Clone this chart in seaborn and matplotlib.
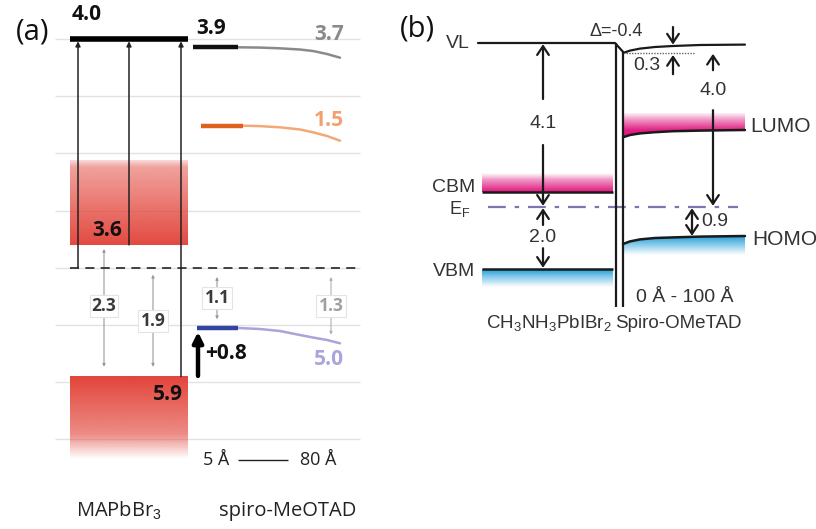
import numpy as np
import matplotlib
matplotlib.use("Agg")
import matplotlib.pyplot as plt
import seaborn as sns
import pandas as pd
from matplotlib.colors import to_rgb
from matplotlib.patches import Polygon

sns.set_theme(style="white")
plt.rcParams['font.family'] = ['Open Sans', 'DejaVu Sans']
plt.rcParams['mathtext.fontset'] = 'custom'
plt.rcParams['mathtext.rm'] = 'Liberation Sans'
plt.rcParams['mathtext.default'] = 'rm'

# ---------------- Panel (a) data: energies (eV below vacuum level) ----------------
a_grid = [0, 1, 2, 3, 4, 5, 6, 7]
a_vl = 0.0
a_fermi = 4.0
a_cbm = 3.6
a_cb_fade = 2.12
a_vbm = 5.9
a_vb_fade = 7.35
a_top_labels = ["4.0", "3.9", "3.7", "1.5", "3.6", "5.9", "5.0"]
a_gap_labels = ["2.3", "1.9", "1.1", "1.3"]
a_gap_from = [3.67, 4.12, 4.16, 4.16]
a_gap_to = [5.73, 5.73, 4.90, 5.17]
# spiro-MeOTAD levels: thick interface segment then band-bending curve
spiro_vl_E = [0.145, 0.150, 0.163, 0.184, 0.210, 0.262, 0.327]
spiro_lumo_E = [1.516, 1.523, 1.544, 1.582, 1.631, 1.696, 1.778]
spiro_homo_E = [5.052, 5.070, 5.105, 5.175, 5.219, 5.262, 5.320]
shift_from, shift_to = 5.89, 5.12

# ---------------- Panel (b) data: schematic level positions ----------------
b_vl = 0.0
b_vl_right = [0.25, 0.19, 0.14, 0.10, 0.075, 0.05, 0.04]
b_cbm = 3.725
b_ef = 4.1
b_vbm = 5.65
b_lumo = [2.357, 2.30, 2.26, 2.23, 2.205, 2.19, 2.175]
b_homo = [5.025, 4.96, 4.91, 4.875, 4.86, 4.84, 4.825]
b_values = ["4.1", "2.0", "4.0", "0.9", "\u0394=-0.4", "0.3"]

fig = plt.figure(figsize=(8.16, 5.29), dpi=100)
fig.patch.set_facecolor("white")
axa = fig.add_axes([0, 0, 400 / 816, 1])
axb = fig.add_axes([400 / 816, 0, 416 / 816, 1])
for ax in (axa, axb):
    ax.set_axis_off()


def vgrad(ax, x0, x1, e_start, e_end, color, stops, alphas, z=1, clip=None):
    n = 128
    arr = np.zeros((n, 1, 4))
    arr[..., :3] = to_rgb(color)
    t = np.linspace(0, 1, n)
    arr[:, 0, 3] = np.interp(t, stops, alphas)
    im = ax.imshow(arr, extent=(x0, x1, e_end, e_start), origin='upper',
                   aspect='auto', interpolation='bilinear', zorder=z)
    if clip is not None:
        im.set_clip_path(clip)
    return im


def arrow(ax, x, y0, y1, style='-|>', lw=1.2, ms=8, color='#222222', z=5):
    ax.annotate('', xy=(x, y1), xytext=(x, y0),
                arrowprops=dict(arrowstyle=style, lw=lw, color=color,
                                mutation_scale=ms, shrinkA=0, shrinkB=0), zorder=z)

# ======================= Panel (a) =======================
for e in a_grid:
    axa.hlines(e, 55, 360, color='#E2E2E2', lw=1, zorder=0)
axa.hlines(a_fermi, 70, 357, color='#333333', lw=1.3, linestyles=(0, (5, 3.5)), zorder=3)

vgrad(axa, 70, 188, a_cb_fade, a_cbm, '#E2443A', [0, 0.08, 1], [0.2, 0.5, 0.97])
vgrad(axa, 70, 188, a_vbm, a_vb_fade, '#E2443A', [0, 0.7, 1], [1.0, 0.62, 0.0])
axa.hlines(a_vl, 70, 188, color='black', lw=4, zorder=6)

for x, e0 in zip([78, 129, 181], [a_fermi, a_cbm, a_vbm]):
    arrow(axa, x, e0, a_vl + 0.04, lw=1.1, ms=7)

for x, lab, e0, e1 in zip([104, 153, 217, 331], a_gap_labels, a_gap_from, a_gap_to):
    col = '#B0B0B0' if lab == "1.3" else '#9A9A9A'
    arrow(axa, x, e0, e1, style='<|-|>', lw=0.8, ms=4, color=col, z=2)
    tcol = '#A0A0A0' if lab == "1.3" else '#3A3A3A'
    axa.text(x, (e0 + e1) / 2 - (0.03 if lab == "2.3" else 0), lab, ha='center', va='center',
             fontsize=12.5, fontweight='bold', color=tcol, zorder=7,
             bbox=dict(boxstyle='square,pad=0.12', fc='white', ec='#E4E4E4', lw=0.8))

curve_x = [260, 280, 300, 313, 327, 340]
for (x0, x1), es, thick_c, thin_c in [((193, 238), spiro_vl_E, '#111111', '#8A8A8A'),
                                      ((201, 243), spiro_lumo_E, '#E0601E', '#F2A878'),
                                      ((197, 238), spiro_homo_E, '#3344A0', '#A9A4D9')]:
    axa.hlines(es[0], x0, x1, color=thick_c, lw=3.2, zorder=5)
    cx = [x1] + curve_x
    df = pd.DataFrame({"x": cx, "E": es})
    sns.lineplot(data=df, x="x", y="E", ax=axa, color=thin_c, lw=1.8,
                 sort=False, estimator=None, zorder=4)
if axa.get_legend() is not None:
    axa.get_legend().remove()

arrow(axa, 198, shift_from, shift_to, lw=3.2, ms=15, color='black', z=6)

bold = dict(fontweight='bold', fontsize=15)
axa.text(72, -0.42, a_top_labels[0], ha='left', va='center', color='#111111', **bold)
axa.text(196, -0.19, a_top_labels[1], ha='left', va='center', color='#111111', **bold)
axa.text(344, -0.07, a_top_labels[2], ha='right', va='center', color='#8A8A8A', **bold)
axa.text(344, 1.42, a_top_labels[3], ha='right', va='center', color='#F2A070', **bold)
axa.text(107, 3.34, a_top_labels[4], ha='center', va='center', color='#111111', **bold)
axa.text(183, 6.22, a_top_labels[5], ha='right', va='center', color='#111111', **bold)
axa.text(205, 5.49, "+0.8", ha='left', va='center', color='#111111', **bold)
axa.text(344, 5.61, a_top_labels[6], ha='right', va='center', color='#A9A4D9', **bold)

axa.text(203, 7.36, "5 \u00c5", ha='left', va='center', fontsize=13, color='#222222')
axa.hlines(7.36, 238, 288, color='#222222', lw=1)
axa.text(300, 7.36, "80 \u00c5", ha='left', va='center', fontsize=13, color='#222222')
axa.text(119, 8.25, "MAPbBr$_3$", ha='center', va='center', fontsize=14.5, color='#222222')
axa.text(288, 8.25, "spiro-MeOTAD", ha='center', va='center', fontsize=14.5, color='#222222')
axa.text(33, -0.12, "(a)", ha='center', va='center', fontsize=21, color='#111111')

axa.set_xlim(0, 400)
axa.set_ylim((529 - 39) / 57.2, (0 - 39) / 57.2)

# ======================= Panel (b) =======================
fb = dict(family=['Liberation Sans', 'DejaVu Sans'], color='#333333')
lc = '#1A1A1A'
axb.plot([478, 615, 623], [b_vl, b_vl, 0.22], color=lc, lw=1.6, zorder=5)
axb.vlines(616, b_vl, 6.6, color=lc, lw=1.6, zorder=5)
axb.vlines(623, 0.22, 6.6, color=lc, lw=1.6, zorder=5)
rx = [623, 630, 640, 655, 673, 700, 745]
axb.plot(rx, b_vl_right, color=lc, lw=1.6, zorder=5)
axb.hlines(0.26, 626, 695, color='#666666', lw=1, linestyles=(0, (1, 1)), zorder=4)

# CBM / VBM of perovskite
vgrad(axb, 482, 613, 3.25, b_cbm, '#E0167E', [0, 0.35, 1], [0.0, 0.45, 1.0])
axb.hlines(b_cbm, 482, 613, color=lc, lw=1.8, zorder=5)
vgrad(axb, 482, 613, b_vbm, 6.1, '#1A9AD8', [0, 0.4, 1], [1.0, 0.55, 0.0])
axb.hlines(b_vbm, 482, 613, color=lc, lw=1.8, zorder=5)

# LUMO / HOMO of spiro
lumo_poly = Polygon(list(zip(rx, b_lumo)) + [(745, 1.75), (623, 1.75)], closed=True,
                    transform=axb.transData)
vgrad(axb, 623, 745, 1.75, 2.36, '#E0167E', [0, 0.3, 0.72, 1], [0.0, 0.45, 0.95, 1.0], clip=lumo_poly)
axb.plot(rx, b_lumo, color=lc, lw=1.8, zorder=5)
homo_poly = Polygon(list(zip(rx, b_homo)) + [(745, 5.3), (623, 5.3)], closed=True,
                    transform=axb.transData)
vgrad(axb, 623, 745, 4.82, 5.3, '#1A9AD8', [0, 0.4, 1], [1.0, 0.6, 0.0], clip=homo_poly)
axb.plot(rx, b_homo, color=lc, lw=1.8, zorder=5)

# Fermi level
axb.hlines(b_ef, 488, 738, color='#7C76B0', lw=1.6, linestyles=(0, (8, 4, 2, 4)), zorder=4)

# arrows (open chevron heads)
am = dict(style='->,head_length=0.45,head_width=0.3', lw=1.6, ms=14, color='#1A1A1A', z=6)
arrow(axb, 543, 1.4, b_vl + 0.03, **am)
arrow(axb, 543, 2.55, b_ef - 0.03, **am)
arrow(axb, 543, 4.55, b_ef + 0.03, **am)
arrow(axb, 543, 5.13, b_vbm - 0.03, **am)
arrow(axb, 713, 0.68, 0.27, **am)
arrow(axb, 713, 1.68, b_ef - 0.03, **am)
arrow(axb, 673, -0.4, b_vl + 0.04, **am)
arrow(axb, 673, 0.78, 0.3, **am)
arrow(axb, 692, b_ef + 0.03, 4.82, style='<->,head_length=0.45,head_width=0.3',
      lw=1.6, ms=14, color='#1A1A1A', z=6)

axb.text(543, 2.0, b_values[0], ha='center', va='center', fontsize=14, **fb)
axb.text(543, 4.85, b_values[1], ha='center', va='center', fontsize=14, **fb)
axb.text(713, 1.18, b_values[2], ha='center', va='center', fontsize=14, **fb)
axb.text(701, 4.45, b_values[3], ha='left', va='center', fontsize=14, **fb)
axb.text(590, -0.3, b_values[4], ha='left', va='center', fontsize=13, **fb)
axb.text(633, 0.55, b_values[5], ha='left', va='center', fontsize=14, **fb)

axb.text(470, 0.0, "VL", ha='right', va='center', fontsize=14, **fb)
axb.text(475, 3.6, "CBM", ha='right', va='center', fontsize=14, **fb)
axb.text(470, 4.15, "E$_F$", ha='right', va='center', fontsize=13, **fb)
axb.text(475, 5.72, "VBM", ha='right', va='center', fontsize=14, **fb)
axb.text(750, 2.1, "LUMO", ha='left', va='center', fontsize=15, **fb)
axb.text(752, 4.92, "HOMO", ha='left', va='center', fontsize=15, **fb)
axb.text(636, 6.35, "0 \u00c5 - 100 \u00c5", ha='left', va='center', fontsize=14, **fb)
axb.text(549, 7.0, "CH$_3$NH$_3$PbIBr$_2$", ha='center', va='center', fontsize=13.5, **fb)
axb.text(678, 7.0, "Spiro-OMeTAD", ha='center', va='center', fontsize=13.5, **fb)
axb.text(417, -0.35, "(b)", ha='center', va='center', fontsize=21, color='#111111')

axb.set_xlim(400, 816)
axb.set_ylim((529 - 43) / 40, (0 - 43) / 40)

fig.savefig("out.png", dpi=100, facecolor="white")
